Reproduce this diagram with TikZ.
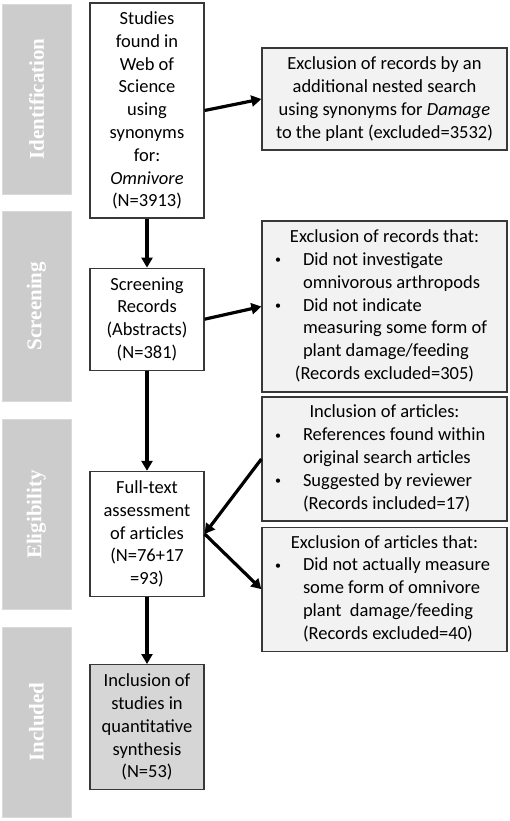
\documentclass[tikz,border=0pt]{standalone}
\usepackage{fontspec}
\setmainfont{Carlito}
\newfontfamily\phasefont{Liberation Serif}
\usetikzlibrary{arrows.meta,positioning}
\definecolor{phasegray}{HTML}{CCCCCC}
\definecolor{phaseedge}{HTML}{DADADA}
\definecolor{boxedge}{HTML}{383838}
\definecolor{notefill}{HTML}{F2F2F2}
\definecolor{resultfill}{HTML}{D6D6D6}
\newcommand{\bul}{\raisebox{1.5pt}{\fontsize{12}{12}\selectfont\textbullet}}
\begin{document}
\begin{tikzpicture}[x=1pt,y=-1pt,
  font=\fontsize{18.5}{22.8}\selectfont,
  phase/.style={rectangle,draw=phaseedge,fill=phasegray,line width=0.8pt,minimum width=190pt,minimum height=69pt,inner sep=0pt,text=white,font=\phasefont\bfseries\fontsize{21}{25}\selectfont,rotate=90},
  box/.style={rectangle,draw=boxedge,line width=1.2pt,fill=white,align=center,minimum width=114pt,inner sep=1pt},
  note/.style={rectangle,draw=boxedge,line width=1.2pt,fill=notefill,align=center,minimum width=245pt,inner sep=0pt},
  arr/.style={-{Triangle[length=10pt,width=11pt]},line width=3.2pt}
]
\useasboundingbox (0,0) rectangle (509,821);
% phase bars
\node[phase] (ident) at (36.5,99) {Identification};
\node[phase] (scr) at (36.5,306) {Screening};
\node[phase] (elig) at (36.5,514.5) {Eligibility};
\node[phase] (incl) at (36.5,722) {Included};
% main column
\node[box,minimum height=215pt] (found) at (147,110.5) {Studies\\found in\\Web of\\Science\\using\\synonyms\\for:\\\textit{Omnivore}\\ (N=3913)};
\node[box,minimum height=102pt,below=49pt of found] (screen) {Screening\\Records\\(Abstracts)\\(N=381)};
\node[box,minimum height=125pt,below=100pt of screen] (full) {Full-text\\assessment\\of articles\\(N=76+17\\=93)};
\node[box,minimum height=125pt,below=67pt of full,fill=resultfill] (synth) {Inclusion of\\studies in\\quantitative\\synthesis\\(N=53)};
% side notes
\node[note,minimum height=102pt] (nested) at (384.5,99) {Exclusion of records by an\\additional nested search\\using synonyms for \textit{Damage}\\to the plant (excluded=3532)};
\node[note,minimum height=171pt] (abs) at (384.5,306.5) {\begin{tabular}{@{}p{28pt}@{}p{191pt}@{}}
\multicolumn{2}{@{}c@{}}{Exclusion of records that:}\\
\bul & Did not investigate\\
 & omnivorous arthropods\\
\bul & Did not indicate\\
 & measuring some form of\\
 & plant damage/feeding\\
\multicolumn{2}{@{}c@{}}{(Records excluded=305)}
\end{tabular}};
\node[note,minimum height=124pt] (added) at (384.5,459) {\begin{tabular}{@{}p{28pt}@{}p{191pt}@{}}
\multicolumn{2}{@{}c@{}}{Inclusion of articles:}\\
\bul & References found within\\
 & original search articles\\
\bul & Suggested by reviewer\\
 & (Records included=17)
\end{tabular}};
\node[note,minimum height=124pt,below=5pt of added] (dropped) {\begin{tabular}{@{}p{28pt}@{}p{191pt}@{}}
\multicolumn{2}{@{}c@{}}{Exclusion of articles that:}\\
\bul & Did not actually measure\\
 & some form of omnivore\\
 & plant\ \ damage/feeding\\
 & (Records excluded=40)
\end{tabular}};
% arrows
\draw[arr] (found) -- (screen);
\draw[arr] (screen) -- (full);
\draw[arr] (full) -- (synth);
\draw[arr] (found.east) -- (nested.west);
\draw[arr] (screen.east) -- (abs.west);
\draw[arr] (added.west) -- (full.east);
\draw[arr] (full.east) -- (dropped.west);
\end{tikzpicture}
\end{document}
